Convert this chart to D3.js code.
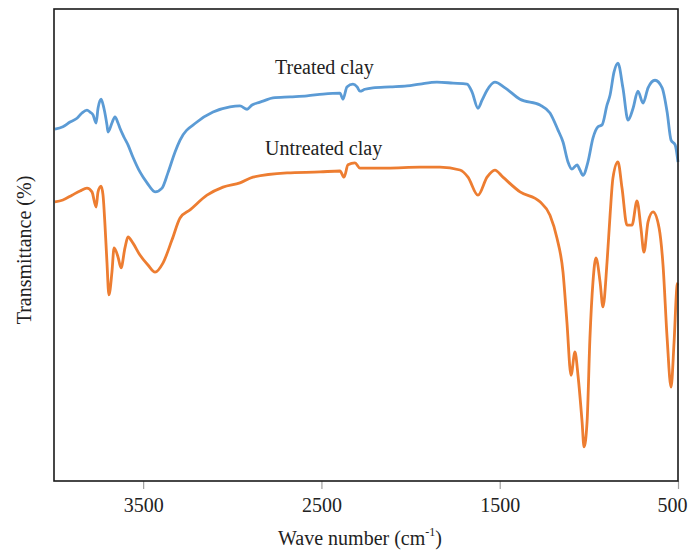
<!DOCTYPE html>
<html>
<head>
<meta charset="utf-8">
<script src="https://cdn.jsdelivr.net/npm/d3@7"></script>
<style>
  body { margin: 0; background: #fff; }
  text { font-family: "Liberation Serif", "Times New Roman", serif; fill: #222; }
</style>
</head>
<body>
<script>

// wave numbers (cm-1) and transmittance
var treatedWn = [3995, 3950, 3910, 3871, 3843, 3815, 3798, 3781, 3764, 3753, 3736, 3720, 3703, 3697,
  3675, 3658, 3641, 3630, 3607, 3585, 3557, 3518, 3478, 3433, 3394, 3361, 3321, 3293, 3198, 3108,
  3013, 2957, 2917, 2889, 2861, 2828, 2772, 2676, 2581, 2491, 2396, 2379, 2357, 2323, 2300, 2284,
  2256, 2211, 2115, 2020, 1947, 1852, 1762, 1683, 1655, 1622, 1599, 1571, 1527, 1470, 1386, 1274,
  1218, 1173, 1145, 1117, 1095, 1066, 1050, 1033, 1005, 977, 949, 926, 898, 881, 859, 837, 809,
  780, 752, 725, 696, 668, 629, 589, 561, 539, 516, 500];
var treatedT = [74.7, 75.2, 76.2, 77.0, 78.1, 78.7, 78.3, 77.7, 76.0, 79.1, 81.0, 79.1, 75.6, 74.1,
  76.0, 77.3, 76.0, 74.9, 73.0, 71.4, 68.8, 65.7, 63.4, 61.5, 62.3, 65.5, 69.9, 72.4, 76.2, 78.3,
  79.4, 79.6, 78.9, 79.8, 80.2, 80.6, 81.3, 81.5, 81.7, 82.1, 82.3, 81.0, 83.6, 84.2, 83.6, 82.7,
  83.1, 83.4, 83.6, 83.8, 84.2, 84.6, 84.4, 84.2, 82.5, 79.1, 80.8, 82.9, 84.6, 83.4, 81.0, 79.8,
  78.1, 74.5, 72.0, 67.8, 66.3, 67.2, 66.1, 65.0, 67.8, 72.8, 75.2, 75.6, 79.8, 81.9, 86.7, 88.6, 83.4,
  76.6, 79.1, 82.7, 80.2, 83.4, 85.0, 83.4, 78.3, 72.4, 71.4, 67.8];

var untreatedWn = [3995, 3950, 3899, 3854, 3815, 3787, 3764, 3753, 3736, 3725, 3714, 3703, 3692,
  3675, 3663, 3641, 3624, 3602, 3585, 3557, 3518, 3473, 3433, 3389, 3338, 3293, 3237, 3142, 3052,
  2957, 2884, 2693, 2508, 2396, 2373, 2351, 2312, 2284, 2132, 1947, 1835, 1723, 1678, 1622, 1571,
  1527, 1482, 1386, 1274, 1218, 1179, 1145, 1123, 1100, 1078, 1061, 1038, 1027, 1010, 994, 977,
  960, 937, 921, 898, 881, 865, 837, 814, 786, 758, 730, 708, 691, 668, 640, 606, 584, 561, 539,
  522, 505, 500];
var untreatedT = [59.4, 59.8, 60.8, 61.7, 62.3, 61.5, 58.3, 61.5, 62.7, 60.8, 54.5, 46.7, 39.8,
  44.6, 49.7, 47.8, 45.5, 49.7, 52.0, 50.7, 48.2, 46.1, 44.6, 46.5, 51.4, 56.0, 57.7, 60.8, 62.5,
  63.4, 64.6, 65.5, 65.7, 65.9, 64.6, 67.2, 67.6, 66.5, 66.5, 66.7, 66.7, 66.1, 64.6, 60.8, 64.6,
  66.1, 64.6, 61.5, 59.4, 56.6, 51.8, 44.6, 34.1, 22.9, 27.8, 22.9, 13.1, 7.8, 13.1, 30.7, 42.5,
  47.6, 42.5, 37.3, 46.7, 56.6, 64.4, 67.8, 62.3, 54.5, 54.5, 59.6, 53.9, 48.8, 55.2, 57.3, 53.9,
  46.1, 30.7, 20.4, 29.9, 41.9, 42.3];

var xTicks = [3500, 2500, 1500, 500];
var seriesNames = ["Treated clay", "Untreated clay"];
var seriesColors = ["#5B9BD5", "#ED7D31"];

var width = 689, height = 551;
var plot = {left: 54, right: 678, top: 9, bottom: 481};

var svg = d3.select("body").append("svg")
    .attr("width", width)
    .attr("height", height);

var xScale = d3.scaleLinear().domain([4000, 500]).range([plot.left, plot.right]);
var yScale = d3.scaleLinear().domain([0, 100]).range([484, plot.top]);

// x axis ticks and labels, no domain line
var xAxis = d3.axisBottom(xScale).tickValues(xTicks).tickSize(8).tickPadding(9)
    .tickFormat(d3.format("d"));

var gx = svg.append("g")
    .attr("transform", "translate(0," + plot.bottom + ")")
    .call(xAxis);
gx.select(".domain").remove();
gx.selectAll(".tick line").attr("stroke", "#a0a0a0").attr("stroke-width", 1.2);
gx.selectAll(".tick text")
    .style("font-family", "'Liberation Serif', serif")
    .style("font-size", "20px")
    .style("fill", "#222")
    .attr("dx", function(d) { return d === 500 ? -6 : 0; });

// lines
var line = d3.line()
    .x(function(d) { return xScale(d[0]); })
    .y(function(d) { return yScale(d[1]); })
    .curve(d3.curveMonotoneX);

var series = [
  d3.zip(treatedWn, treatedT),
  d3.zip(untreatedWn, untreatedT)
];

series.forEach(function(data, i) {
  svg.append("path")
      .datum(data)
      .attr("fill", "none")
      .attr("stroke", seriesColors[i])
      .attr("stroke-width", 2.8)
      .attr("stroke-linejoin", "round")
      .attr("d", line);
});

// plot frame
svg.append("rect")
    .attr("x", plot.left)
    .attr("y", plot.top)
    .attr("width", plot.right - plot.left)
    .attr("height", plot.bottom - plot.top)
    .attr("fill", "none")
    .attr("stroke", "#1a1a1a")
    .attr("stroke-width", 1.6);

// series labels
svg.append("text").attr("x", 275).attr("y", 74)
    .attr("font-size", 20).text(seriesNames[0]);
svg.append("text").attr("x", 265).attr("y", 155)
    .attr("font-size", 20).text(seriesNames[1]);

// axis titles
var xt = svg.append("text")
    .attr("x", 360).attr("y", 545)
    .attr("text-anchor", "middle")
    .attr("font-size", 20);
xt.append("tspan").text("Wave number (cm");
xt.append("tspan").attr("font-size", 12).attr("dy", -9).text("-1");
xt.append("tspan").attr("dy", 9).text(")");

svg.append("text")
    .attr("transform", "translate(31,250) rotate(-90)")
    .attr("text-anchor", "middle")
    .attr("font-size", 20)
    .text("Transmittance (%)");

</script>
</body>
</html>
